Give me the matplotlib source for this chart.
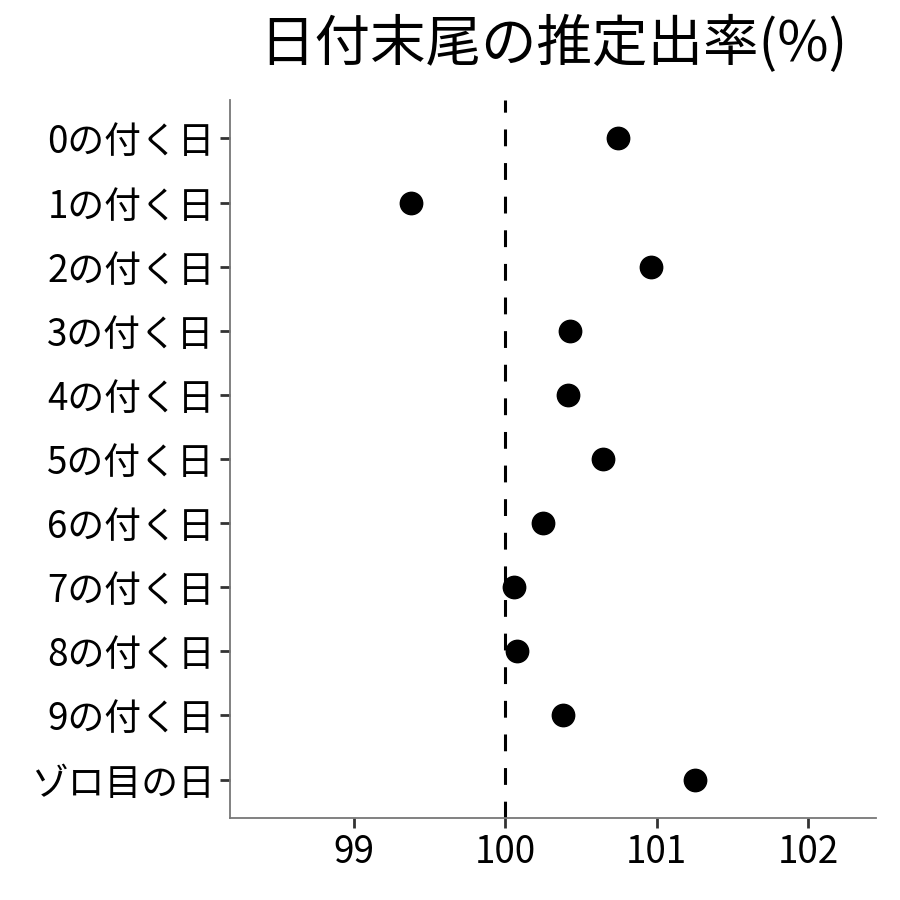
import matplotlib
matplotlib.use("Agg")
import matplotlib.pyplot as plt

plt.rcParams['font.family'] = ['Noto Sans CJK JP', 'DejaVu Sans']

# data
labels = ["0の付く日", "1の付く日", "2の付く日", "3の付く日", "4の付く日",
          "5の付く日", "6の付く日", "7の付く日", "8の付く日", "9の付く日",
          "ゾロ目の日"]
rates = [100.746, 99.376, 100.964, 100.429, 100.416,
         100.647, 100.251, 100.059, 100.079, 100.383, 101.254]
xticks = [99, 100, 101, 102]

fig = plt.figure(figsize=(9, 9), dpi=100)
ax = fig.add_axes([230 / 900, 1 - 818 / 900, 646 / 900, 718 / 900])

ypos = list(range(len(labels)))
ax.axvline(100, color="black", lw=2.2, ls=(0, (5.5, 5.5)), zorder=1)
ax.scatter(rates, ypos, s=260, color="black", zorder=3)

ax.set_yticks(ypos)
ax.set_yticklabels(labels, fontsize=26.5)
ax.set_xticks(xticks)
ax.set_xticklabels([str(t) for t in xticks], fontsize=26.5)
ax.set_ylim(10.6, -0.6)
ax.set_xlim(98.18, 102.45)

for side in ("top", "right"):
    ax.spines[side].set_visible(False)
for side in ("left", "bottom"):
    ax.spines[side].set_color("#777777")
    ax.spines[side].set_linewidth(1.3)
ax.tick_params(axis="both", length=7, width=2, color="#333333", pad=4)

fig.text(553 / 900, 1 - 45 / 900, "日付末尾の推定出率(%)", fontsize=40,
         ha="center", va="center")

fig.savefig("out.png", dpi=100)
plt.close(fig)
